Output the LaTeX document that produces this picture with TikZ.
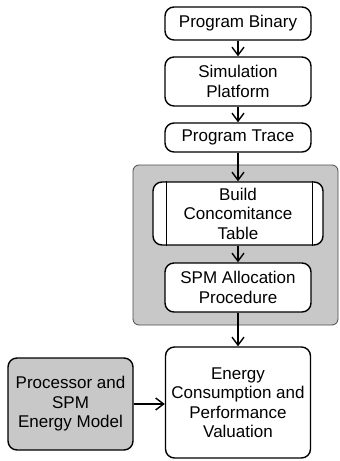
\documentclass[tikz,border=0pt]{standalone}
\usepackage{fontspec}
\setmainfont{Liberation Sans}
\usetikzlibrary{arrows.meta}
\definecolor{boxgray}{RGB}{200,200,200}
\tikzset{
  flowbox/.style={draw=black, line width=1.4pt, rounded corners=9pt, fill=white,
    align=center, inner sep=0pt, font=\fontsize{17}{19.5}\selectfont},
  flowarrow/.style={draw=black, line width=1.4pt, -{Straight Barb[length=8pt,width=12pt,line width=1.4pt]}},
  groupbox/.style={draw=black!70, line width=0.8pt, rounded corners=6pt, fill=boxgray, inner sep=0pt}
}
\begin{document}
\begin{tikzpicture}[x=1pt,y=-1pt]
\useasboundingbox (0,0) rectangle (340,461);
\node[groupbox, minimum width=205pt, minimum height=160pt] (grp) at (235.5,245) {};
\node[flowbox, minimum width=146pt, minimum height=33pt] (pb) at (238,23.5) {Program Binary};
\node[flowbox, minimum width=146pt, minimum height=49pt] (sp) at (238,81.5) {Simulation\\Platform};
\node[flowbox, minimum width=146pt, minimum height=29pt] (pt) at (238,137.5) {Program Trace};
\node[flowbox, minimum width=170pt, minimum height=63pt] (bct) at (238,213.5) {Build\\Concomitance\\Table};
\draw[line width=1pt] ([xshift=14pt]bct.north west) -- ([xshift=14pt]bct.south west);
\draw[line width=1pt] ([xshift=-11pt]bct.north east) -- ([xshift=-11pt]bct.south east);
\node[flowbox, minimum width=146pt, minimum height=49pt] (spm) at (238,287.5) {SPM Allocation\\Procedure};
\node[flowbox, minimum width=145pt, minimum height=111pt] (en) at (238,402.5) {Energy\\Consumption and\\Performance\\Valuation};
\node[flowbox, fill=boxgray, minimum width=125pt, minimum height=92pt] (proc) at (70.5,404) {Processor and\\SPM\\Energy Model};
\draw[flowarrow] (pb.south) -- (sp.north);
\draw[flowarrow] (sp.south) -- (pt.north);
\draw[flowarrow] (pt.south) -- (bct.north);
\draw[flowarrow] (bct.south) -- (spm.north);
\draw[flowarrow] (spm.south) -- (en.north);
\draw[flowarrow] (proc.east) -- (proc.east -| en.west);
\end{tikzpicture}
\end{document}
